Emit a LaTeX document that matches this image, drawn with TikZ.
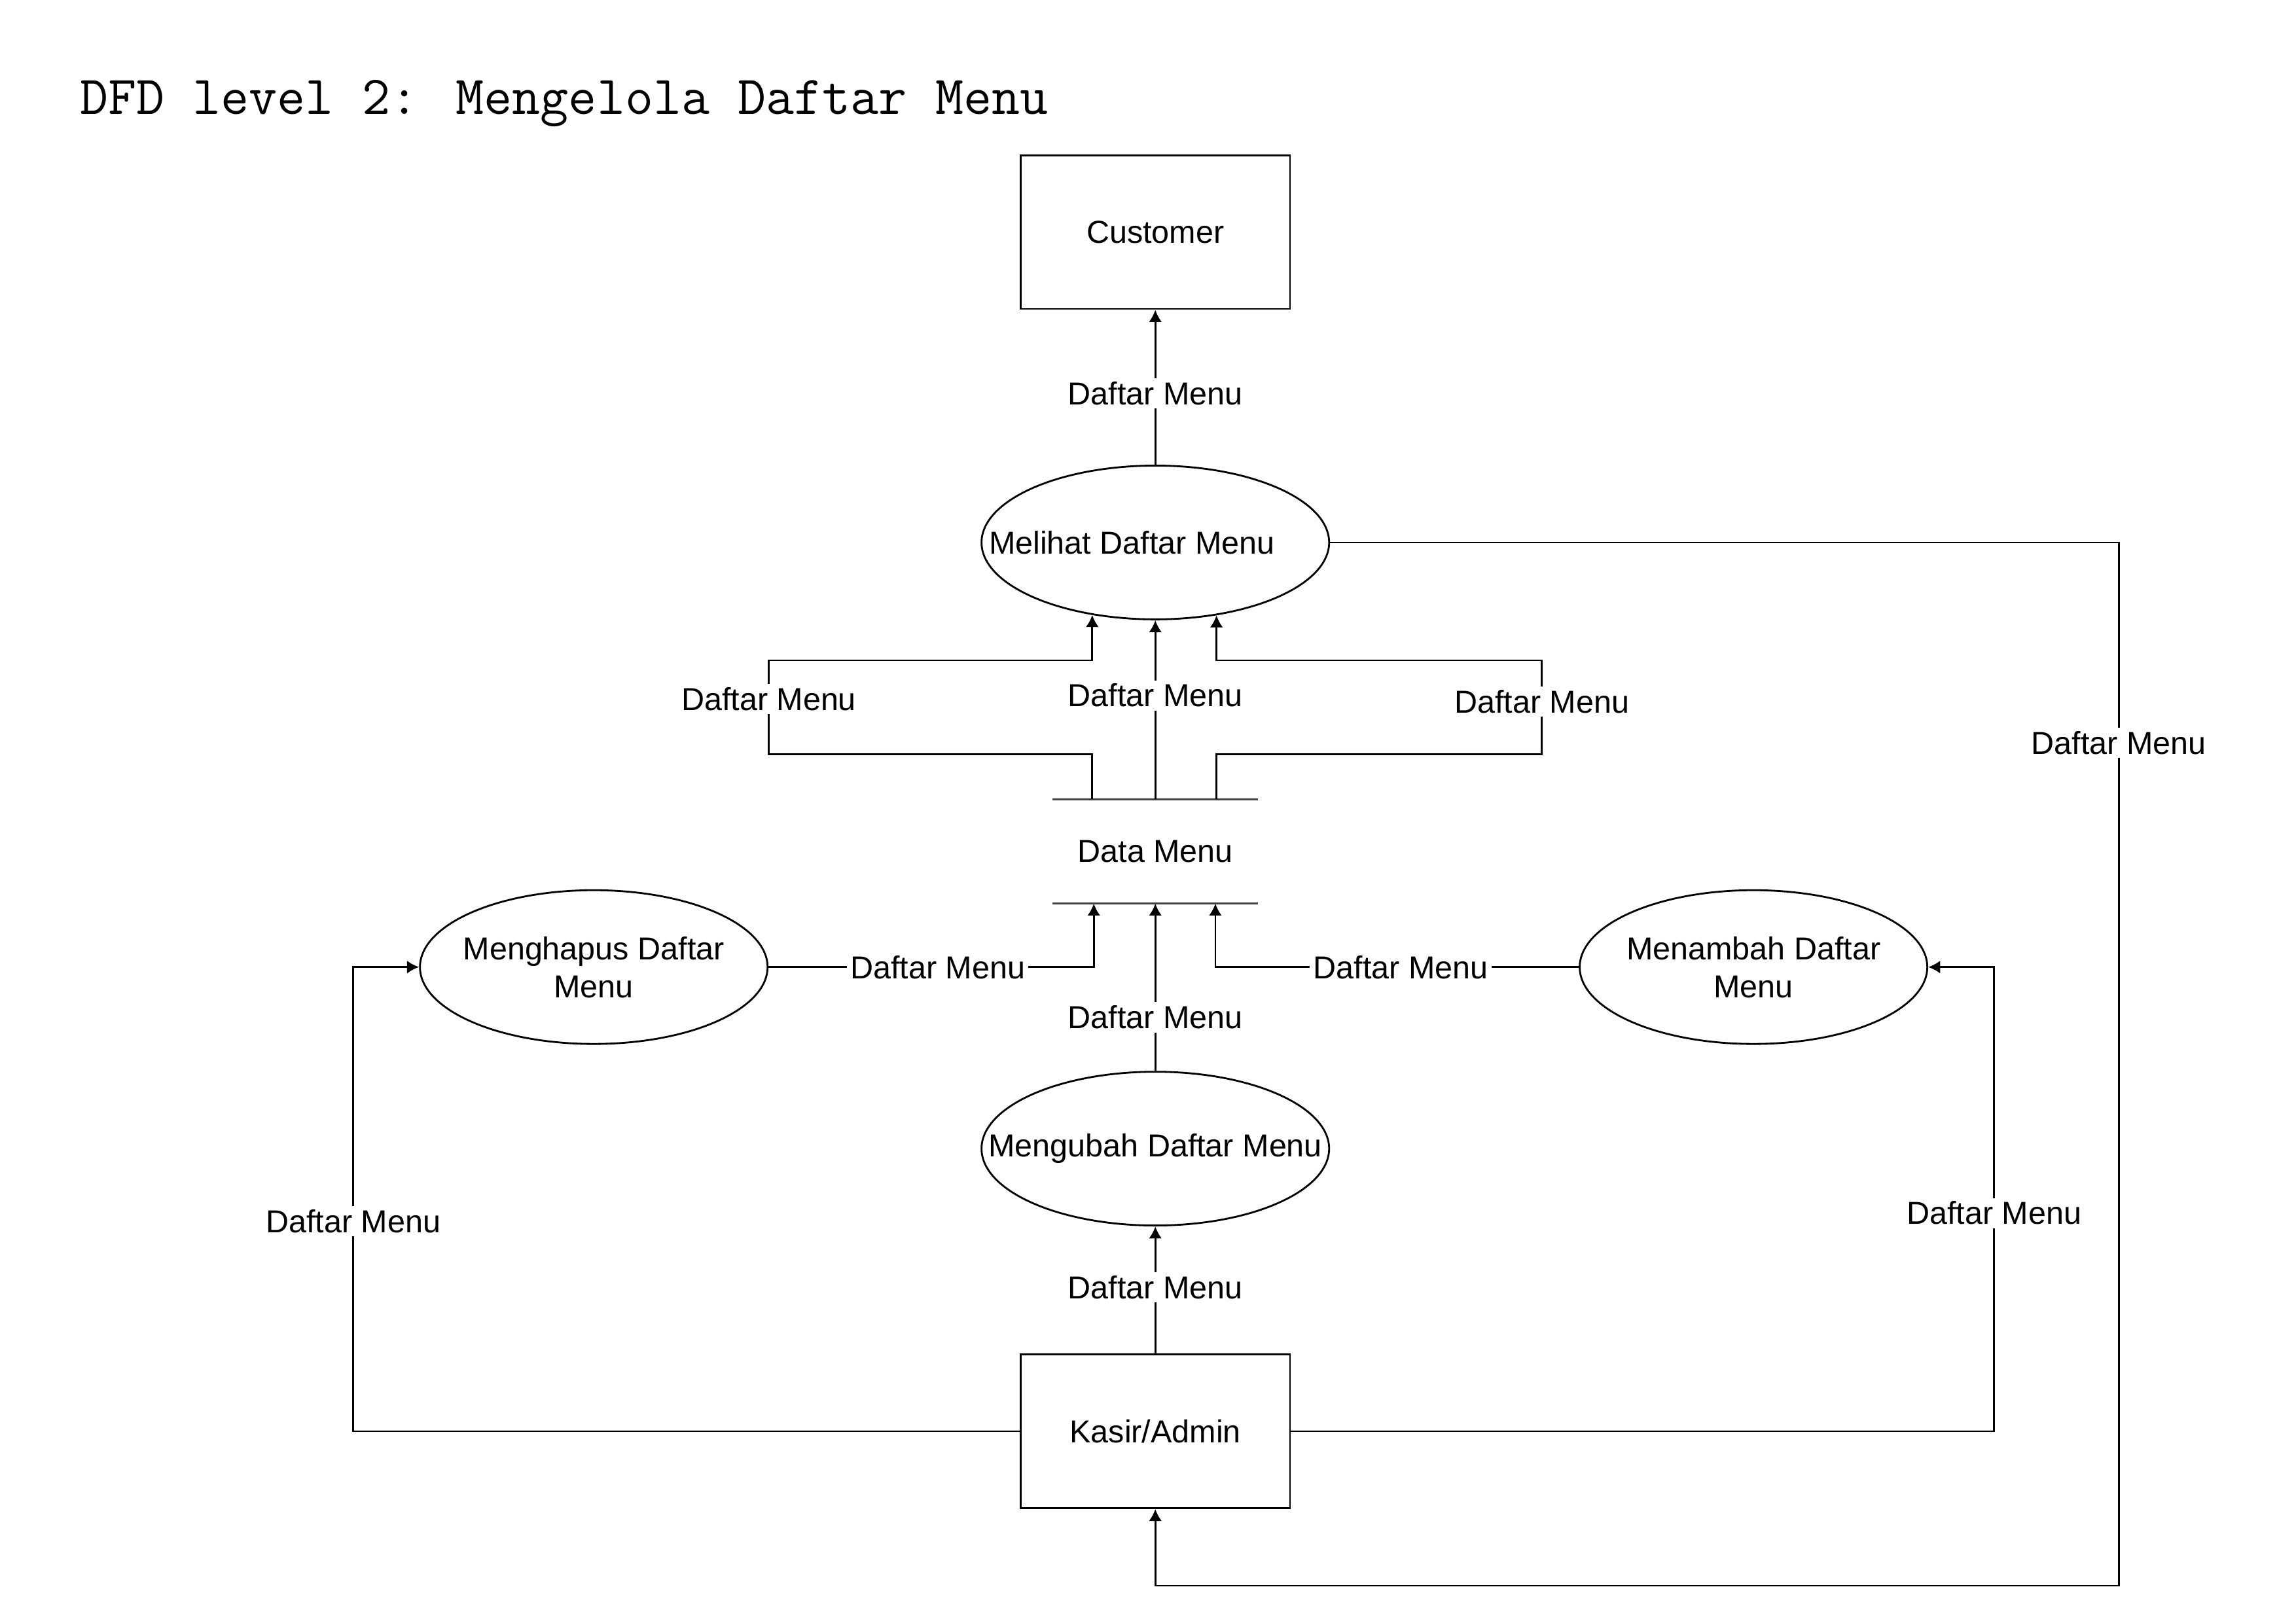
\documentclass[tikz,border=0pt]{standalone}
\usepackage{fontspec}
\setmainfont{Liberation Sans}
\usepackage{tikz}
\usetikzlibrary{arrows.meta,positioning,shapes.geometric,calc}

\begin{document}
\begin{tikzpicture}[
  x=0.022372cm, y=-0.022372cm,
  font=\fontsize{13.8}{16.5}\selectfont,
  line width=0.8pt,
  entity/.style={draw, minimum width=4.116cm, minimum height=2.349cm, inner sep=0pt},
  proc/.style={draw, ellipse, minimum width=5.31cm, minimum height=2.349cm, inner sep=0pt},
  dstore/.style={minimum width=3.11cm, minimum height=1.566cm, inner sep=0pt},
  storeline/.style={draw, line width=1pt, black!75},
  flow/.style={-{Latex[length=5.2pt,width=5.6pt]}},
  lbl/.style={fill=white, inner sep=1.5pt}
]
  \useasboundingbox (0,0) rectangle (1568,1108.5);

  \node[anchor=base west, inner sep=0pt, font={\ttfamily\fontsize{23.8}{28}\selectfont}] (title) at (54,78) {DFD level 2: Mengelola Daftar Menu};

  % external entities
  \node[entity] (customer) at (789,158.5) {Customer};
  \node[entity] (kasir) at (789,977.5) {Kasir/Admin};

  % processes
  \node[proc] (melihat) at (789,370.5) {};
  \node (melihat-txt) at (773,370.5) {Melihat Daftar Menu};
  \node[proc] (hapus) at (405.5,660.5) {};
  \node[align=center] (hapus-txt) at (hapus) {Menghapus Daftar\\Menu};
  \node[proc] (tambah) at (1197.5,660.5) {};
  \node[align=center] (tambah-txt) at (tambah) {Menambah Daftar\\Menu};
  \node[proc] (ubah) at (789,784.5) {};
  \node (ubah-txt) at (ubah) {Mengubah Daftar Menu};

  % data store
  \node[dstore] (data) at (789,581.5) {Data Menu};
  \draw[storeline] (data.north west) -- (data.north east);
  \draw[storeline] (data.south west) -- (data.south east);

  \coordinate (ul) at (525,515);
  \coordinate (ul2) at (525,451);
  \coordinate (ur) at (1053,515);
  \coordinate (ur2) at (1053,451);
  \coordinate (rb) at (1447,1083);

  \draw[flow] (melihat.north) -- node[lbl, pos=.46] {Daftar Menu} (customer.south);
  \draw[flow] (melihat.229 |- data.north) |- (ul) -- node[lbl, pos=.59] {Daftar Menu} (ul2) -| (melihat.229);
  \draw[flow] (data.north) -- node[lbl, pos=.58] {Daftar Menu} (melihat.south);
  \draw[flow] (melihat.310 |- data.north) |- (ur) -- node[lbl, pos=.56] {Daftar Menu} (ur2) -| (melihat.310);
  \draw[flow] (melihat.east) -| node[lbl, pos=.596] {Daftar Menu} (rb) -| (kasir.south);

  \draw[flow] (hapus.east) -| node[lbl, pos=.26] {Daftar Menu} ($(data.south)+(-42,0)$);
  \draw[flow] (tambah.west) -| node[lbl, pos=.245] {Daftar Menu} ($(data.south)+(41,0)$);
  \draw[flow] (ubah.north) -- node[lbl, pos=.32] {Daftar Menu} (data.south);

  \draw[flow] (kasir.north) -- node[lbl, pos=.52] {Daftar Menu} (ubah.south);
  \draw[flow] (kasir.west) -| node[lbl, pos=.726] {Daftar Menu} ($(hapus.west)+(-45,0)$) -- (hapus.west);
  \draw[flow] (kasir.east) -| node[lbl, pos=.735] {Daftar Menu} ($(tambah.east)+(45,0)$) -- (tambah.east);
\end{tikzpicture}
\end{document}
